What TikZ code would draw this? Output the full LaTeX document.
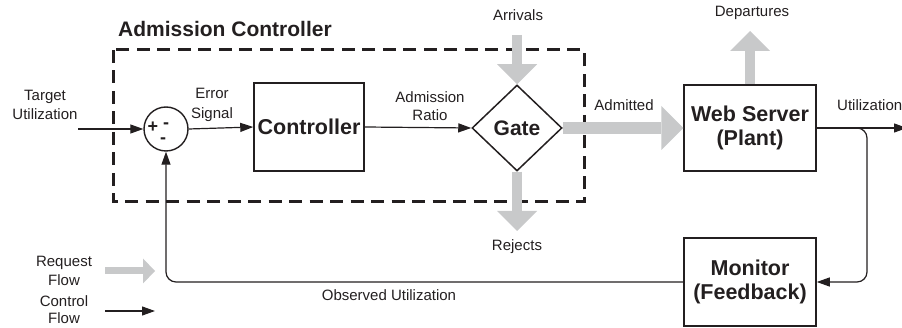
\documentclass[tikz,border=0pt]{standalone}
\usepackage{fontspec}
\setmainfont{Liberation Sans}
\usetikzlibrary{arrows.meta,shapes.geometric,calc}
\definecolor{flowgray}{RGB}{200,201,202}
\definecolor{ink}{RGB}{35,31,32}
\tikzset{
  lbl/.style={font=\fontsize{15}{19.5}\selectfont, align=center, inner sep=0pt, text=ink},
  sym/.style={font=\fontsize{18}{18}\selectfont\bfseries, inner sep=0pt, text=ink},
  blk/.style={draw=ink, line width=1.5pt, font=\fontsize{21.5}{24}\selectfont\bfseries, align=center, text=ink},
  ctrl/.style={draw=ink, line width=1.2pt, -{Triangle[length=13pt,width=9pt]}},
  flow/.style={draw=flowgray, line width=10pt, -{Triangle[length=20pt,width=40pt,line width=0pt]}, shorten <=0pt},
  box/.style={draw=ink, line width=3pt, dash pattern=on 13pt off 7.5pt}
}
\begin{document}
\begin{tikzpicture}[x=1pt,y=-1pt]
\useasboundingbox (0,0) rectangle (902,328);
% dashed admission controller frame
\draw[box] (113,50) rectangle (584,202);
\node[anchor=west, font=\fontsize{21}{24}\selectfont\bfseries, inner sep=0pt, text=ink] (actitle) at (118,29) {Admission Controller};
% nodes
\node[circle, draw=ink, line width=1.4pt, minimum size=44pt, inner sep=0pt] (sum) at (166,129) {};
\node[sym] (plus) at (153,127) {+};
\node[sym] (minus1) at (166,126) {-};
\node[sym] (minus2) at (163,141) {-};
\node[blk, minimum width=110pt, minimum height=88pt] (ctl) at (309,127) {Controller};
\node[diamond, draw=ink, line width=1.5pt, minimum width=90pt, minimum height=86pt, inner sep=0pt, font=\fontsize{21}{24}\selectfont\bfseries, text=ink] (gate) at (517,128) {Gate};
\node[blk, minimum width=132pt, minimum height=86pt] (web) at (750,128) {Web Server\\(Plant)};
\node[blk, minimum width=132pt, minimum height=88pt] (mon) at (750,282) {Monitor\\(Feedback)};
% labels
\node[lbl] (target) at (45,105) {Target\\Utilization};
\node[lbl] (err) at (212,105) {Error\\Signal};
\node[lbl, font=\fontsize{15}{17.5}\selectfont] (ratio) at (430,106) {Admission\\Ratio};
\node[lbl] (admitted) at (624,105) {Admitted};
\node[lbl, anchor=west] (util) at (837,105) {Utilization};
\node[lbl] (arrivals) at (518,15) {Arrivals};
\node[lbl] (departures) at (752,13) {Departures};
\node[lbl] (rejects) at (517,247) {Rejects};
\node[lbl] (observed) at (389,295) {Observed Utilization};
\node[lbl] (reqflow) at (64,271) {Request\\Flow};
\node[lbl, font=\fontsize{15}{17}\selectfont] (ctlflow) at (64,310) {Control\\Flow};
% free ends
\coordinate (tin) at (78,129);
\coordinate (arrtop) at (517,35);
\coordinate (deptop) at (750,31);
\coordinate (rejbot) at (517,231);
\coordinate (uend) at (907,128);
\coordinate (fb) at (856,128);
\coordinate (fbx) at (867,128);
\coordinate (fby) at (867,282);
\coordinate (rq1) at (105,271);
\coordinate (rq2) at (155,271);
\coordinate (cf1) at (105,311);
\coordinate (cf2) at (155,311);
% control connectors
\draw[ctrl] (tin) -- (sum.west);
\draw[ctrl] (sum.east) -- (ctl.west);
\draw[ctrl] (ctl.east) -- (gate.west);
\draw[ctrl] (web.east) -- (uend);
\draw[ctrl, rounded corners=10pt] (fb) -- (fbx) -- (fby) -- (mon.east);
\draw[ctrl, rounded corners=10pt] (mon.west) -| (sum.south);
% request flow arrows
\draw[flow] (arrtop) -- (gate.north);
\draw[flow] (gate.south) -- (rejbot);
\draw[flow, line width=12pt, -{Triangle[length=22pt,width=44pt,line width=0pt]}] (gate.east) -- (web.west);
\draw[flow] (web.north) -- (deptop);
% legend
\draw[flow, line width=7pt, -{Triangle[length=12pt,width=25pt,line width=0pt]}] (rq1) -- (rq2);
\draw[ctrl] (cf1) -- (cf2);
\end{tikzpicture}
\end{document}
